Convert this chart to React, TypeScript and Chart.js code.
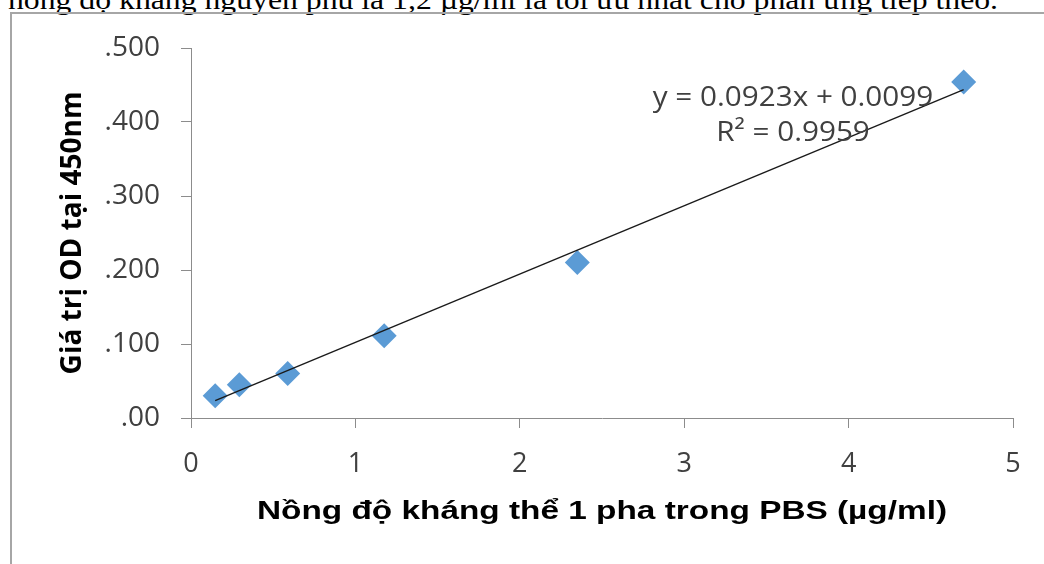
import React, { useEffect, useRef } from "react";
import { Chart, registerables } from "chart.js";

Chart.register(...registerables);

// ---- data ----
const concentrations = [0.147, 0.294, 0.588, 1.175, 2.35, 4.7];
const odValues = [0.03, 0.045, 0.06, 0.111, 0.21, 0.454];
const trendSlope = 0.0923;
const trendIntercept = 0.0099;
const equationLines = ["y = 0.0923x + 0.0099", "R\u00B2 = 0.9959"];
const yTickLabels = [".00", ".100", ".200", ".300", ".400", ".500"];
const xTickLabels = ["0", "1", "2", "3", "4", "5"];
const xTitle = "Nồng độ kháng thể 1 pha trong PBS (µg/ml)";
const yTitle = "Giá trị OD tại 450nm";
const captionText =
  "nồng độ kháng nguyên phủ là 1,2 µg/ml là tối ưu nhất cho phản ứng tiếp theo.";

const W = 1044;
const H = 564;

const textPlugin = {
  id: "extraText",
  afterDatasetsDraw(chart: any) {
    const { ctx, chartArea } = chart;
    // trendline equation
    const cx = chartArea.left + 602;
    ctx.save();
    ctx.font = '28px "Open Sans", sans-serif';
    ctx.fillStyle = "#404040";
    ctx.textAlign = "center";
    ctx.textBaseline = "middle";
    ctx.translate(cx, 0);
    ctx.scale(1.06, 1);
    ctx.fillText(equationLines[0], 0, chartArea.top + 50);
    ctx.fillText(equationLines[1], 0, chartArea.top + 85);
    ctx.restore();

    // x axis title (horizontally stretched like the reference)
    ctx.save();
    ctx.font = 'bold 26px "Liberation Sans", Arial, sans-serif';
    ctx.fillStyle = "#000";
    ctx.textAlign = "center";
    ctx.textBaseline = "middle";
    const w = ctx.measureText(xTitle).width;
    const sx = 690 / w;
    ctx.translate((chartArea.left + chartArea.right) / 2, chartArea.bottom + 94);
    ctx.scale(sx, 1);
    ctx.fillText(xTitle, 0, 0);
    ctx.restore();
  },
};

export default function App() {
  const canvasRef = useRef<HTMLCanvasElement | null>(null);

  useEffect(() => {
    const canvas = canvasRef.current;
    if (!canvas) return;
    const xMin = Math.min(...concentrations);
    const xMax = Math.max(...concentrations);
    const trend = [
      { x: xMin, y: trendSlope * xMin + trendIntercept },
      { x: xMax, y: trendSlope * xMax + trendIntercept },
    ];
    const points = concentrations.map((x, i) => ({ x, y: odValues[i] }));

    const chart = new Chart(canvas, {
      type: "scatter",
      data: {
        datasets: [
          {
            type: "line",
            data: trend,
            borderColor: "#1a1a1a",
            borderWidth: 1.4,
            pointRadius: 0,
            fill: false,
            order: 0,
          } as any,
          {
            data: points,
            pointStyle: "rectRot",
            pointRadius: 12.5,
            backgroundColor: "#5B9BD5",
            borderColor: "#5B9BD5",
            borderWidth: 0,
            order: 1,
          },
        ],
      },
      options: {
        responsive: false,
        animation: false,
        events: [],
        layout: { padding: { left: 0, right: 31, top: 48, bottom: 0 } },
        plugins: {
          legend: { display: false },
          tooltip: { enabled: false },
        },
        scales: {
          x: {
            type: "linear",
            min: 0,
            max: 5,
            afterFit: (s: any) => {
              s.height = 146;
            },
            ticks: {
              stepSize: 1,
              padding: 20,
              color: "#404040",
              font: { family: '"Open Sans", sans-serif', size: 27 },
              callback: (_v: any, i: number) => xTickLabels[i],
            },
            grid: {
              display: true,
              drawOnChartArea: false,
              drawTicks: true,
              tickLength: 10,
              color: "#8c8c8c",
            },
            border: { display: true, color: "#8c8c8c", width: 1 },
            title: { display: false },
          },
          y: {
            type: "linear",
            min: 0,
            max: 0.5,
            afterFit: (s: any) => {
              s.width = 191;
            },
            ticks: {
              stepSize: 0.1,
              padding: 21,
              color: "#404040",
              font: { family: '"Open Sans", sans-serif', size: 28 },
              callback: (_v: any, i: number) => yTickLabels[i],
            },
            grid: {
              display: true,
              drawOnChartArea: false,
              drawTicks: true,
              tickLength: 10,
              color: "#8c8c8c",
            },
            border: { display: true, color: "#8c8c8c", width: 1 },
            title: {
              display: true,
              text: yTitle,
              color: "#000",
              font: { family: '"Open Sans", sans-serif', size: 28, weight: "bold" },
              padding: { top: 56, bottom: 0 },
            },
          },
        },
      },
      plugins: [textPlugin],
    });
    return () => chart.destroy();
  }, []);

  return (
    <div
      style={{
        position: "absolute",
        left: 0,
        top: 0,
        width: W,
        height: H,
        overflow: "hidden",
        background: "#fff",
      }}
    >
      <div
        style={{
          position: "absolute",
          left: 8,
          top: -15,
          whiteSpace: "nowrap",
          fontFamily: '"Liberation Serif", "Times New Roman", serif',
          fontSize: 26.67,
          lineHeight: "30px",
          color: "#000",
          transform: "scaleX(1.19)",
          transformOrigin: "left top",
        }}
      >
        {captionText}
      </div>
      <div
        style={{
          position: "absolute",
          left: 10,
          top: 12,
          width: W - 10,
          height: 0,
          borderTop: "2px solid #a6a6a6",
        }}
      />
      <div
        style={{
          position: "absolute",
          left: 10,
          top: 12,
          width: 0,
          height: H - 12,
          borderLeft: "2px solid #a6a6a6",
        }}
      />
      <canvas
        ref={canvasRef}
        width={W}
        height={H}
        style={{ position: "absolute", left: 0, top: 0, width: W, height: H }}
      />
    </div>
  );
}
